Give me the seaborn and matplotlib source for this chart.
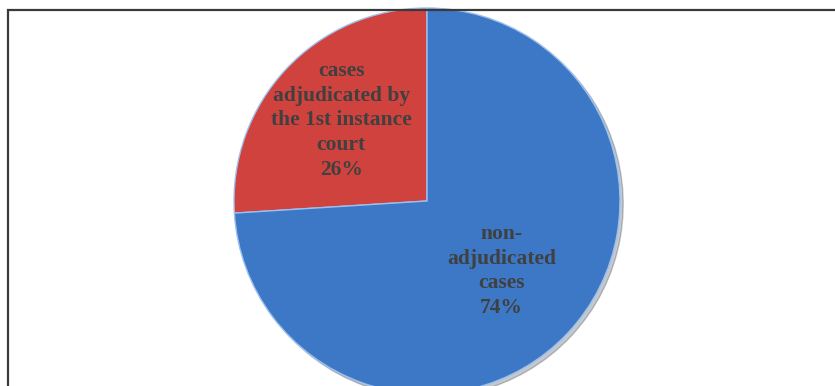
import numpy as np
import matplotlib
matplotlib.use("Agg")
import matplotlib.pyplot as plt
from matplotlib.patches import Rectangle
import seaborn as sns

# data
categories = ["cases\nadjudicated by\nthe 1st instance\ncourt", "non-\nadjudicated\ncases"]
values = [26, 74]
pct_labels = ["26%", "74%"]
colors = ["#CF423E", "#3D78C6"]
label_radius = [0.61, 0.53]

sns.set_theme(style="white")
plt.rcParams['font.family'] = ['Liberation Serif', 'DejaVu Serif']

W, H = 835, 386
fig = plt.figure(figsize=(W / 100, H / 100), dpi=100)
fig.patch.set_facecolor("white")

cx, cy, r = 427, 201, 193
ax = fig.add_axes([(cx - r) / W, (H - cy - r) / H, 2 * r / W, 2 * r / H])

wedges, _ = ax.pie(values, colors=colors, startangle=90, counterclock=True,
                   radius=1.0, wedgeprops=dict(edgecolor="#9CC0EE", linewidth=1.0),
                   shadow=dict(ox=0.012, oy=-0.012, alpha=0.25))
ax.set_xlim(-1, 1)
ax.set_ylim(-1, 1)
ax.set_aspect("equal")
ax.axis("off")

for w, cat, pct, lr in zip(wedges, categories, pct_labels, label_radius):
    mid = np.deg2rad((w.theta1 + w.theta2) / 2)
    ax.text(lr * np.cos(mid), lr * np.sin(mid), cat + "\n" + pct,
            ha="center", va="center", fontsize=15.5, fontweight="bold",
            color="#404040", linespacing=1.32)

# chart frame (extends past right and bottom edges)
fig.add_artist(Rectangle((7.5 / W, -0.1), 1.2, (H - 9.5) / H + 0.1,
                         transform=fig.transFigure, fill=False,
                         edgecolor="#3A3A3A", linewidth=1.6, zorder=10))

fig.savefig("out.png", dpi=100)
